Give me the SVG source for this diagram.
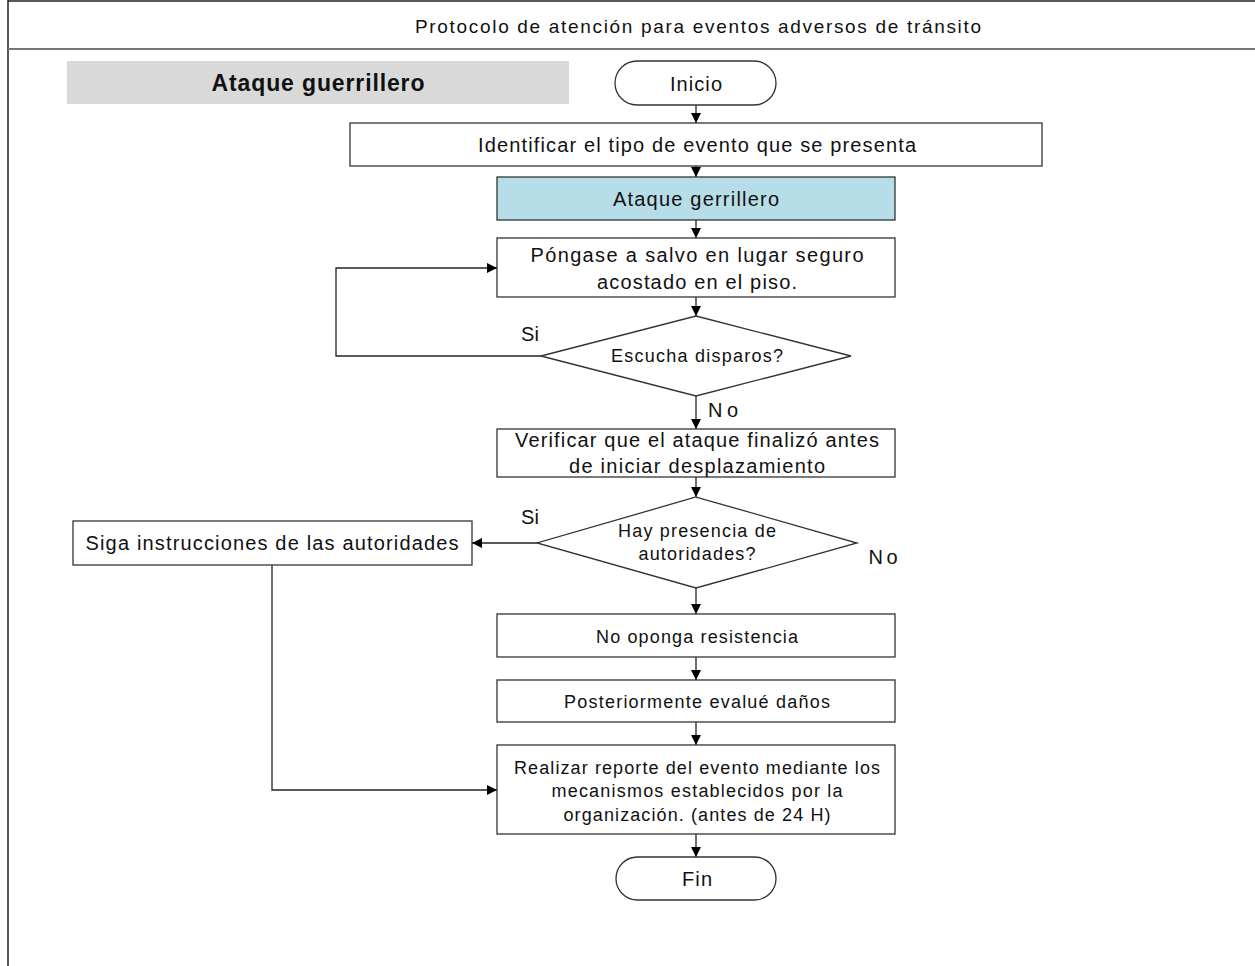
<svg xmlns="http://www.w3.org/2000/svg" width="1255" height="966" viewBox="0 0 1255 966">
<defs>
<marker id="ah" markerWidth="10" markerHeight="10" refX="10" refY="5" orient="auto" markerUnits="userSpaceOnUse">
<path d="M0,0 L10,5 L0,10 z" fill="#000"/>
</marker>
<style>
.t{font-family:"Liberation Sans",Arial,sans-serif;font-size:20px;fill:#111;text-anchor:middle}
.s{font-size:18px}
.box{fill:#fff;stroke:#333;stroke-width:1.3}
.c{fill:none;stroke:#222;stroke-width:1.3;marker-end:url(#ah)}
</style>
</defs>
<rect width="1255" height="966" fill="#fff"/>
<g id="frame">
<line x1="8" y1="1" x2="1255" y2="1" stroke="#222" stroke-width="1.5"/>
<line x1="8" y1="0" x2="8" y2="966" stroke="#222" stroke-width="1.5"/>
<line x1="8" y1="49" x2="1255" y2="49" stroke="#777" stroke-width="2"/>
<text class="t s" x="698" y="33" style="font-size:19px" textLength="566" lengthAdjust="spacing">Protocolo de atención para eventos adversos de tránsito</text>
</g>
<g id="header">
<rect x="67" y="61" width="502" height="43" fill="#d9d9d9"/>
<text class="t" x="318" y="91" style="font-weight:bold;font-size:23px" textLength="213" lengthAdjust="spacing">Ataque guerrillero</text>
</g>
<g id="connectors">
<path class="c" d="M696,105 V123"/>
<path class="c" d="M696,166 V177"/>
<path class="c" d="M696,220 V238"/>
<path class="c" d="M696,297 V316"/>
<path class="c" d="M541,356 H336 V268 H497"/>
<path class="c" d="M696,396 V429"/>
<path class="c" d="M696,477 V497"/>
<path class="c" d="M537,543 H472"/>
<path class="c" d="M696,588 V614"/>
<path class="c" d="M696,657 V680"/>
<path class="c" d="M696,722 V745"/>
<path class="c" d="M272,565 V790 H497"/>
<path class="c" d="M696,834 V857"/>
<text class="t" x="530" y="341">Si</text>
<text class="t" x="723" y="417" textLength="30" lengthAdjust="spacing">No</text>
<text class="t" x="530" y="524">Si</text>
<text class="t" x="883" y="564" textLength="29" lengthAdjust="spacing">No</text>
</g>
<g id="inicio">
<rect class="box" x="615" y="61" width="161" height="44" rx="22"/>
<text class="t" x="696" y="91" textLength="52" lengthAdjust="spacing">Inicio</text>
</g>
<g id="identificar">
<rect class="box" x="350" y="123" width="692" height="43"/>
<text class="t" x="697" y="152" textLength="438" lengthAdjust="spacing">Identificar el tipo de evento que se presenta</text>
</g>
<g id="ataque">
<rect class="box" x="497" y="177" width="398" height="43" style="fill:#b7dde8"/>
<text class="t" x="696" y="206" textLength="166" lengthAdjust="spacing">Ataque gerrillero</text>
</g>
<g id="pongase">
<rect class="box" x="497" y="238" width="398" height="59"/>
<text class="t" x="697" y="262" textLength="333" lengthAdjust="spacing">Póngase a salvo en lugar seguro</text>
<text class="t" x="697" y="289" textLength="200" lengthAdjust="spacing">acostado en el piso.</text>
</g>
<g id="escucha">
<path class="box" d="M696,316 L851,356 L696,396 L541,356 z"/>
<text class="t s" x="697" y="362" textLength="172" lengthAdjust="spacing">Escucha disparos?</text>
</g>
<g id="verificar">
<rect class="box" x="497" y="429" width="398" height="48"/>
<text class="t" x="697" y="447" textLength="364" lengthAdjust="spacing">Verificar que el ataque finalizó antes</text>
<text class="t" x="697" y="473" textLength="256" lengthAdjust="spacing">de iniciar desplazamiento</text>
</g>
<g id="presencia">
<path class="box" d="M696,497 L857,543 L696,588 L537,543 z"/>
<text class="t s" x="697" y="537" textLength="158" lengthAdjust="spacing">Hay presencia de</text>
<text class="t s" x="697" y="560" textLength="117" lengthAdjust="spacing">autoridades?</text>
</g>
<g id="siga">
<rect class="box" x="73" y="521" width="399" height="44"/>
<text class="t" x="272" y="550" textLength="373" lengthAdjust="spacing">Siga instrucciones de las autoridades</text>
</g>
<g id="nooponga">
<rect class="box" x="497" y="614" width="398" height="43"/>
<text class="t s" x="697" y="643" textLength="202" lengthAdjust="spacing">No oponga resistencia</text>
</g>
<g id="posteriormente">
<rect class="box" x="497" y="680" width="398" height="42"/>
<text class="t s" x="697" y="708" textLength="266" lengthAdjust="spacing">Posteriormente evalué daños</text>
</g>
<g id="reporte">
<rect class="box" x="497" y="745" width="398" height="89"/>
<text class="t s" x="697" y="774" textLength="366" lengthAdjust="spacing">Realizar reporte del evento mediante los</text>
<text class="t s" x="697" y="797" textLength="291" lengthAdjust="spacing">mecanismos establecidos por la</text>
<text class="t s" x="697" y="821" textLength="267" lengthAdjust="spacing">organización. (antes de 24 H)</text>
</g>
<g id="fin">
<rect class="box" x="616" y="857" width="160" height="43" rx="21.5"/>
<text class="t" x="697" y="886" textLength="30" lengthAdjust="spacing">Fin</text>
</g>
</svg>
